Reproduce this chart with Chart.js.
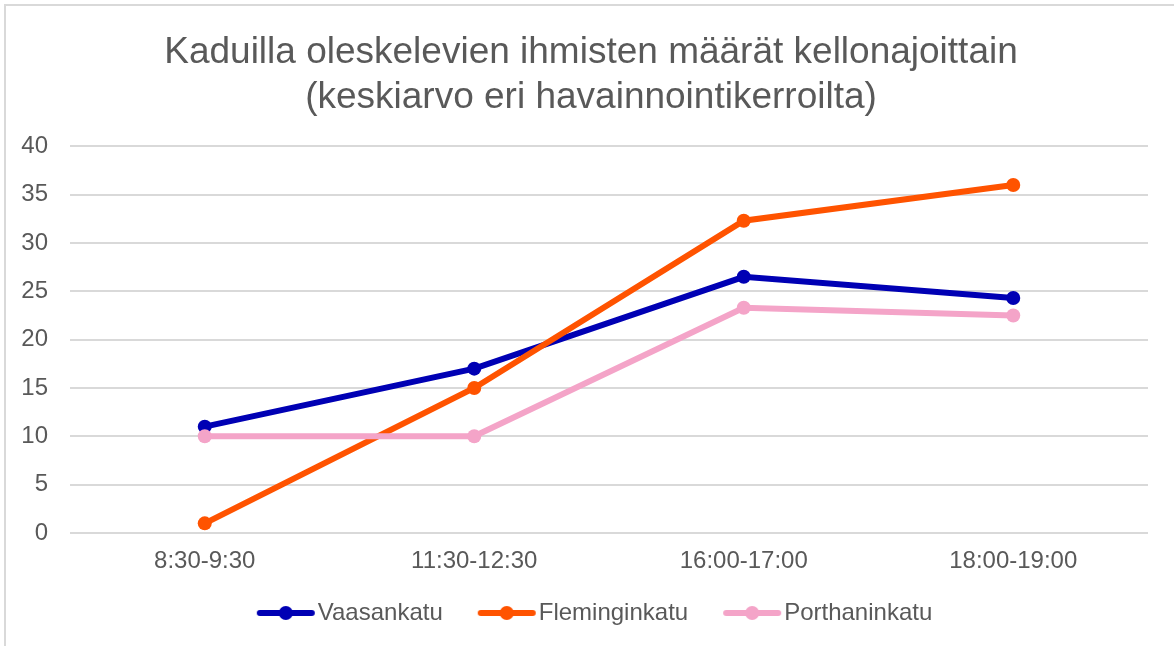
<!DOCTYPE html>
<html>
<head>
<meta charset="utf-8">
<script src="https://cdn.jsdelivr.net/npm/chart.js@4"></script>
<style>
  html, body { margin: 0; padding: 0; background: #fff; }
  #wrap { position: relative; width: 1174px; height: 646px; }
</style>
</head>
<body>
<div id="wrap"><canvas id="c" width="1174" height="646"></canvas></div>
<script>
const titleLines = ["Kaduilla oleskelevien ihmisten määrät kellonajoittain", "(keskiarvo eri havainnointikerroilta)"];
const categories = ["8:30-9:30", "11:30-12:30", "16:00-17:00", "18:00-19:00"];
const seriesNames = ["Vaasankatu", "Fleminginkatu", "Porthaninkatu"];
const vaasankatu = [11, 17, 26.5, 24.3];
const fleminginkatu = [1, 15, 32.3, 36];
const porthaninkatu = [10, 10, 23.3, 22.5];
const colors = ["#0000B4", "#FF5300", "#F4A4C8"];
const yTicks = [0, 5, 10, 15, 20, 25, 30, 35, 40];

const FONT = "'Liberation Sans', Arial, sans-serif";

function legendMarker(color) {
  const cv = document.createElement('canvas');
  cv.width = 86; cv.height = 16;
  const g = cv.getContext('2d');
  g.strokeStyle = color; g.lineWidth = 6; g.lineCap = 'round';
  g.beginPath(); g.moveTo(30, 8); g.lineTo(82, 8); g.stroke();
  g.fillStyle = color;
  g.beginPath(); g.arc(56, 8, 7, 0, Math.PI * 2); g.fill();
  return cv;
}

const borderPlugin = {
  id: 'outerBorder',
  beforeDraw(chart) {
    const ctx = chart.ctx;
    ctx.save();
    ctx.strokeStyle = '#d9d9d9';
    ctx.lineWidth = 2;
    ctx.strokeRect(5, 5, 2000, 2000);
    ctx.restore();
  }
};

const shiftPlugin = {
  id: 'shiftBoxes',
  afterLayout(chart) {
    if (chart.titleBlock) { chart.titleBlock.left += 17; chart.titleBlock.right += 17; }
    if (chart.legend) { chart.legend.left += 12; chart.legend.right += 12; }
  }
};

const seriesData = [vaasankatu, fleminginkatu, porthaninkatu];
const datasets = seriesNames.map((name, i) => ({
  label: name,
  data: seriesData[i],
  borderColor: colors[i],
  backgroundColor: colors[i],
  borderWidth: 6,
  pointRadius: 7,
  pointHoverRadius: 7,
  pointBorderWidth: 0,
  pointBackgroundColor: colors[i],
  tension: 0,
  order: 3 - i
}));

new Chart(document.getElementById('c'), {
  type: 'line',
  data: { labels: categories, datasets },
  plugins: [borderPlugin, shiftPlugin],
  options: {
    responsive: false,
    animation: false,
    events: [],
    layout: { padding: { left: 0, right: 26, top: 0, bottom: 11 } },
    plugins: {
      tooltip: { enabled: false },
      title: {
        display: true,
        text: titleLines,
        color: '#595959',
        font: { family: FONT, size: 37, weight: 'normal', lineHeight: 1.22 },
        padding: { top: 30, bottom: 26 }
      },
      legend: {
        position: 'bottom',
        labels: {
          color: '#595959',
          font: { family: FONT, size: 24 },
          usePointStyle: true,
          pointStyleWidth: 66,
          boxHeight: 16,
          padding: 18,
          sort: (a, b) => a.datasetIndex - b.datasetIndex,
          generateLabels(chart) {
            const items = Chart.defaults.plugins.legend.labels.generateLabels(chart);
            items.forEach(it => { it.pointStyle = legendMarker(colors[it.datasetIndex]); });
            return items;
          }
        }
      }
    },
    scales: {
      x: {
        offset: true,
        grid: { display: false, drawTicks: false },
        border: { display: false },
        ticks: { color: '#595959', font: { family: FONT, size: 24 }, padding: 14 },
        afterFit(scale) { scale.height = 50; }
      },
      y: {
        min: 0, max: 40,
        afterBuildTicks(scale) { scale.ticks = yTicks.map(v => ({ value: v })); },
        grid: { color: '#d9d9d9', lineWidth: 2, drawTicks: false },
        border: { display: false },
        ticks: { color: '#595959', font: { family: FONT, size: 24 }, padding: 22 },
        afterFit(scale) { scale.width = 70; }
      }
    }
  }
});
</script>
</body>
</html>
